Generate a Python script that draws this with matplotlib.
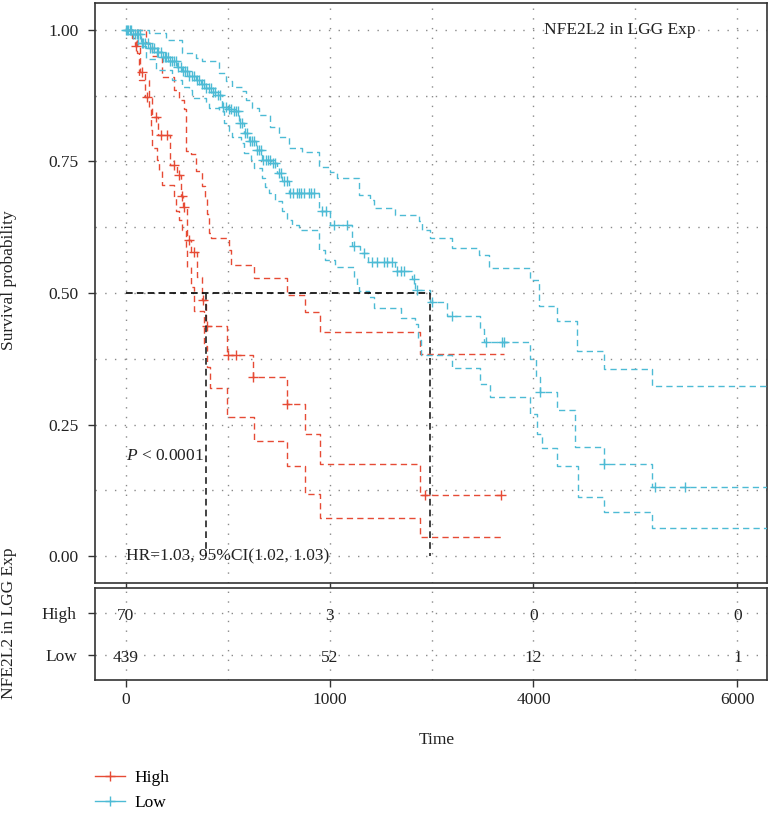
import numpy as np
import matplotlib
matplotlib.use("Agg")
import matplotlib.pyplot as plt
from matplotlib.lines import Line2D

plt.rcParams['font.family'] = ['Liberation Serif', 'DejaVu Serif']
plt.rcParams['mathtext.fontset'] = 'custom'
plt.rcParams['mathtext.rm'] = 'Liberation Serif'
plt.rcParams['mathtext.it'] = 'Liberation Serif:italic'

# ---------------- data ----------------
groups = ["High", "Low"]
colors = ["#E64B35", "#4DBBD5"]

high_t = [0, 60, 90, 140, 190, 260, 320, 440, 500, 540, 560, 600, 640, 700, 745, 790,
          990, 1250, 1580, 1760, 1910, 2890]
high_s = [1.0, 0.985, 0.969, 0.920, 0.873, 0.834, 0.800, 0.743, 0.724, 0.684, 0.663, 0.600,
          0.577, 0.530, 0.486, 0.437, 0.382, 0.341, 0.290, 0.233, 0.176, 0.116]
high_end = 3707
high_up_t = [0, 200, 261, 359, 474, 523, 572, 588, 637, 686, 745, 777, 800, 817, 833,
             1013, 1029, 1258, 1585, 1764, 1911, 2891]
high_up_s = [1.0, 0.975, 0.951, 0.911, 0.885, 0.867, 0.849, 0.769, 0.765, 0.731, 0.704, 0.683,
             0.651, 0.614, 0.604, 0.582, 0.553, 0.528, 0.496, 0.464, 0.426, 0.385]
high_lo_t = [0, 114, 131, 229, 245, 261, 310, 327, 359, 474, 490, 523, 555, 588, 604, 640,
             670, 770, 800, 830, 990, 1258, 1585, 1764, 1911, 2891]
high_lo_s = [1.0, 0.956, 0.905, 0.854, 0.810, 0.775, 0.753, 0.734, 0.705, 0.683, 0.655, 0.639,
             0.620, 0.588, 0.550, 0.512, 0.465, 0.400, 0.360, 0.319, 0.265, 0.219, 0.171,
             0.118, 0.072, 0.037]
high_censor = [98, 157, 212, 294, 343, 408, 474, 523, 549, 572, 621, 670, 761, 800, 1000,
               1078, 1251, 1585, 2940, 3682]

low_t = [0, 60, 150, 229, 300, 359, 425, 500, 555, 620, 686, 740, 784, 840, 882, 947, 1000,
         1045, 1111, 1160, 1209, 1274, 1339, 1437, 1486, 1536, 1601, 1895, 2000, 2220, 2300,
         2380, 2646, 2810, 2842, 2989, 3153, 3479, 3515, 3969, 4020, 4060, 4230, 4410, 4688,
         5162]
low_s = [1.0, 0.992, 0.975, 0.965, 0.957, 0.949, 0.940, 0.930, 0.921, 0.913, 0.905, 0.897,
         0.889, 0.882, 0.876, 0.854, 0.850, 0.845, 0.823, 0.804, 0.788, 0.772, 0.753, 0.747,
         0.728, 0.712, 0.690, 0.655, 0.629, 0.589, 0.576, 0.558, 0.542, 0.526, 0.506, 0.482,
         0.456, 0.431, 0.407, 0.374, 0.341, 0.312, 0.278, 0.208, 0.176, 0.131]
low_end = 6300
low_up_t = [0, 229, 392, 555, 686, 751, 914, 980, 1045, 1143, 1176, 1241, 1307, 1421, 1503,
            1601, 1731, 1895, 2009, 2075, 2287, 2401, 2440, 2646, 2875, 2907, 2989, 3202,
            3463, 3561, 3969, 4050, 4230, 4430, 4688, 5162]
low_up_s = [1.0, 0.994, 0.981, 0.956, 0.947, 0.940, 0.918, 0.902, 0.892, 0.883, 0.867, 0.851,
            0.838, 0.816, 0.797, 0.775, 0.767, 0.740, 0.730, 0.719, 0.686, 0.677, 0.661, 0.648,
            0.636, 0.620, 0.604, 0.585, 0.572, 0.547, 0.525, 0.476, 0.447, 0.390, 0.356,
            0.324]
low_lo_t = [0, 120, 200, 294, 457, 555, 621, 653, 784, 817, 914, 963, 1013, 1045, 1127, 1160,
            1225, 1258, 1339, 1372, 1405, 1470, 1536, 1585, 1634, 1699, 1895, 1960, 2058,
            2238, 2270, 2290, 2385, 2433, 2700, 2842, 2870, 2900, 3202, 3479, 3577, 3969,
            4030, 4080, 4230, 4440, 4688, 5162]
low_lo_s = [1.0, 0.970, 0.945, 0.924, 0.905, 0.892, 0.886, 0.870, 0.861, 0.851, 0.845, 0.823,
            0.807, 0.797, 0.785, 0.766, 0.753, 0.737, 0.718, 0.702, 0.690, 0.674, 0.655, 0.639,
            0.629, 0.620, 0.582, 0.563, 0.550, 0.531, 0.515, 0.503, 0.493, 0.471, 0.452,
            0.442, 0.411, 0.382, 0.357, 0.328, 0.303, 0.271, 0.233, 0.205, 0.172, 0.112,
            0.084, 0.053]
low_censor = [5, 15, 25, 40, 55, 75, 95, 110, 125, 140, 160, 175, 195, 215, 240, 260, 280,
              305, 320, 345, 365, 385, 400, 420, 440, 460, 475, 495, 515, 540, 560, 585, 600,
              625, 650, 670, 700, 720, 745, 770, 790, 815, 835, 860, 880, 905, 925, 960, 985,
              1010, 1030, 1060, 1080, 1100, 1125, 1145, 1170, 1190, 1220, 1240, 1260, 1285,
              1310, 1330, 1350, 1380, 1400, 1420, 1450, 1470, 1500, 1520, 1550, 1580, 1610,
              1640, 1680, 1700, 1720, 1750, 1800, 1820, 1850, 1930, 1970, 2042, 2173, 2238,
              2336, 2417, 2470, 2530, 2560, 2613, 2663, 2700, 2728, 2826, 2859, 3000, 3201,
              3530, 3690, 3712, 4067, 4688, 5194, 5488]

median_times = [785, 2990]

risk_times = [0, 2000, 4000, 6000]
risk_high = [70, 3, 0, 0]
risk_low = [439, 52, 12, 1]
xtick_labels = ["0", "1000", "4000", "6000"]
ytick_vals = [0.0, 0.25, 0.5, 0.75, 1.0]

title_text = "NFE2L2 in LGG Exp"
pval_text = r"$P$ < 0.0001"
hr_text = "HR=1.03, 95%CI(1.02, 1.03)"

# ---------------- figure ----------------
W, H = 773, 819
fig = plt.figure(figsize=(W / 100, H / 100), dpi=100)

def frac_box(x0, y0, x1, y1):
    return [x0 / W, 1 - y1 / H, (x1 - x0) / W, (y1 - y0) / H]

ax = fig.add_axes(frac_box(95, 3, 767, 583))
axr = fig.add_axes(frac_box(95, 588, 767, 680))

FS = 12.5
xlim = (-300, 6290)
dash_curve = (0, (4.5, 3))
grid_ls = (0, (1, 6))
grid_col = "#8a8a8a"
frame_col = "#333333"

def step_vals(t, s, end):
    return np.append(t, end), np.append(s, s[-1])

def lookup(t, s, c):
    t = np.asarray(t); s = np.asarray(s)
    idx = np.searchsorted(t, c, side="right") - 1
    return s[idx]

curves = [
    (high_t, high_s, high_up_t, high_up_s, high_lo_t, high_lo_s, high_censor, high_end),
    (low_t, low_s, low_up_t, low_up_s, low_lo_t, low_lo_s, low_censor, low_end),
]

for (mt, ms, ut, us, lt, ls, cen, end), col in zip(curves, colors):
    for tt, ss in [(ut, us), (lt, ls), (mt, ms)]:
        x, y = step_vals(tt, ss, end)
        ax.step(x, y, where="post", color=col, lw=1.0, linestyle=dash_curve, zorder=3)
    cy = lookup(mt, ms, np.asarray(cen))
    ax.plot(cen, cy, linestyle="none", marker="+", ms=7, mew=1.0, color=col, zorder=4)

# median lines
ax.plot([0, max(median_times)], [0.5, 0.5], color="black", lw=1.2,
        linestyle=(0, (4, 2.5)), zorder=5)
for m in median_times:
    ax.plot([m, m], [0.5, 0.0], color="#222222", lw=1.2, linestyle=(0, (4, 2.5)), zorder=5)

ax.set_xlim(*xlim)
ax.set_ylim(-0.051, 1.051)
ax.set_yticks(ytick_vals)
ax.set_yticklabels(["%.2f" % v for v in ytick_vals], fontsize=FS)
ax.set_xticks(risk_times)
ax.set_xticklabels([])
ax.set_xticks(np.arange(1000, 6001, 2000), minor=True)
ax.set_yticks(np.arange(0.125, 1.0, 0.25), minor=True)
ax.grid(True, which="both", color=grid_col, lw=1.0, linestyle=grid_ls, zorder=0)
ax.tick_params(axis="both", which="major", direction="out", length=5, width=1,
               color=frame_col, labelcolor="#222222", pad=3)
ax.tick_params(axis="y", which="major", pad=7)
ax.tick_params(axis="both", which="minor", length=0)
for sp in ax.spines.values():
    sp.set_color(frame_col); sp.set_linewidth(1.2)

ax.text(4850, 1.0, title_text, ha="center", va="center", fontsize=FS, color="#222222",
        zorder=6)
ax.text(0, 0.19, pval_text, ha="left", va="center", fontsize=FS, color="#222222", zorder=6)
ax.text(0, 0.0, hr_text, ha="left", va="center", fontsize=FS, color="#222222", zorder=6)

# ---------------- risk table ----------------
axr.set_xlim(*xlim)
axr.set_ylim(0.42, 2.58)
for t, n in zip(risk_times, risk_high):
    axr.text(t, 1.93, str(n), ha="center", va="center", fontsize=FS, color="#222222")
for t, n in zip(risk_times, risk_low):
    axr.text(t, 0.93, str(n), ha="center", va="center", fontsize=FS, color="#222222")
axr.set_yticks([2, 1])
axr.set_yticklabels(groups, fontsize=FS)
axr.set_xticks(risk_times)
axr.set_xticklabels(xtick_labels, fontsize=FS)
axr.set_xticks(np.arange(1000, 6001, 2000), minor=True)
axr.grid(True, which="both", color=grid_col, lw=1.0, linestyle=grid_ls, zorder=0)
axr.tick_params(axis="both", which="major", direction="out", length=5, width=1,
                color=frame_col, labelcolor="#222222", pad=4)
axr.tick_params(axis="y", which="major", pad=8)
axr.tick_params(axis="both", which="minor", length=0)
for sp in axr.spines.values():
    sp.set_color(frame_col); sp.set_linewidth(1.2)

# labels
fig.text(437 / W, 1 - 740 / H, "Time", ha="center", va="center", fontsize=FS, color="#222222")
fig.text(9 / W, 1 - 280 / H, "Survival probability", ha="center", va="center",
         rotation=90, fontsize=FS, color="#222222")
fig.text(9 / W, 1 - 623 / H, title_text, ha="center", va="center", rotation=90,
         fontsize=FS, color="#222222")

# legend
handles = [Line2D([], [], color=c, lw=1.0, marker="+", ms=7, mew=1.0) for c in colors]
fig.legend(handles, groups, loc="upper left", bbox_to_anchor=(95 / W, 1 - 770 / H),
           frameon=False, fontsize=FS, handlelength=1.7, handletextpad=0.6,
           labelspacing=0.5, borderaxespad=0, borderpad=0)

fig.savefig("out.png", dpi=100)
